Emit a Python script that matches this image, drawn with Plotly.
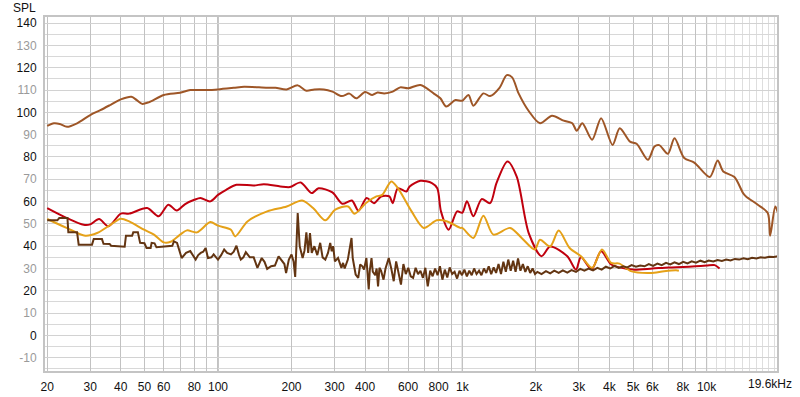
import plotly.graph_objects as go
import math

# ---------------- data ----------------
upper_freq = [20, 21.3, 22.5, 24.1, 26.5, 30, 33, 36.5, 40, 44.2, 46.5, 48.9, 52, 60, 70, 77, 90, 100,
              116, 128, 159, 172, 191, 212, 230, 248, 271, 294, 321, 345, 368, 400, 428, 450, 479, 519,
              557, 601, 674, 763, 813, 860, 937, 1000, 1060, 1110, 1220, 1300, 1420, 1520, 1600, 1700,
              1870, 2080, 2330, 2600, 2820, 2940, 3100, 3400, 3700, 4120, 4410, 4860, 5170, 5750, 6120,
              6400, 6940, 7390, 8100, 8900, 10300, 11100, 11700, 13000, 14100, 14500, 16200, 17800,
              18200, 19100, 19600]
upper_spl = [93.9, 95.1, 94.8, 93.5, 95.1, 98.8, 101, 103.5, 105.8, 107, 105.5, 103.8, 104.5, 107.8, 108.8,
             110, 110, 110.3, 111, 111.5, 111, 111, 110.3, 112.1, 109.7, 110.3, 110.3, 109.3, 107.3, 108.4,
             106.3, 109.1, 107.8, 108.9, 108.5, 109.3, 111.2, 110.8, 112.3, 108.5, 106.3, 102.6, 105.5,
             105.2, 107.8, 103, 108.5, 107.3, 111, 116.7, 115.7, 108.5, 100.6, 95.1, 98.5, 96.3, 95.1, 91.8,
             95.1, 87.7, 97.4, 85.4, 92.9, 86.9, 85.9, 78.7, 84.7, 85.3, 81.4, 88.4, 79.5, 77.5, 71, 78.4,
             73.5, 71, 63.8, 62.3, 58.6, 54.9, 44.7, 57.8, 54.9]

red_freq = [20, 24.1, 28.2, 30, 32.6, 35.6, 40, 43.3, 51.3, 57.2, 62.6, 67.8, 73.4, 80, 84.8, 93, 100, 108,
            119, 140, 154, 180, 197, 218, 242, 258, 294, 323, 353, 376, 406, 435, 465, 503, 519, 545, 590,
            609, 674, 751, 790, 818, 880, 952, 1000, 1045, 1110, 1200, 1300, 1380, 1530, 1670, 1870, 2110,
            2290, 2690, 2920, 3060, 3380, 3700, 4070, 4400, 5000, 6000, 7000, 8000, 9000, 10000, 10800, 11300]
red_spl = [57.1, 52.6, 49.6, 49.8, 52.2, 48.9, 54.6, 54.6, 57.1, 53.4, 58.6, 56, 58.9, 60.8, 61.6, 60.1, 63,
           65.3, 67.5, 67.2, 67.8, 66.8, 66.5, 68.6, 63.8, 66, 64.1, 59, 60.5, 55.9, 61.6, 59.3, 62.3, 62.3,
           59.3, 66, 64.5, 66.8, 69.3, 68.3, 66, 55.6, 47.4, 55.6, 55, 60.1, 53.4, 61.1, 59.3, 68.3, 78,
           71.2, 45.9, 35.5, 39.9, 35.5, 29.5, 35.2, 29.5, 37.7, 31.8, 30.5, 29.5, 30, 30.5, 30.7, 31, 31.3,
           31.5, 30]

orange_freq = [20, 24, 28.6, 32, 36.3, 40, 43.3, 49.8, 54.7, 60, 64, 70, 74.6, 82, 93, 100, 113, 117.6, 132,
               159, 191, 221, 245, 275, 302, 341, 362, 406, 445, 470, 512, 545, 620, 695, 786, 868, 980,
               1000, 1110, 1220, 1340, 1570, 1750, 1980, 2080, 2290, 2480, 2750, 3060, 3400, 3730, 4070,
               4400, 4900, 5900, 6700, 7500, 7700]
orange_spl = [52.2, 48.2, 44.7, 45.9, 49.6, 52.3, 51.1, 47.4, 45.2, 41.7, 42, 45.2, 47.1, 46.2, 50.8, 49.2,
              47.4, 44.4, 51.1, 55.6, 57.8, 60.5, 57.1, 51.6, 56.4, 57.8, 54.6, 59.6, 62.3, 63, 69, 66,
              55.6, 48.2, 51.6, 51.1, 48.2, 48.2, 43.7, 53.7, 45.2, 48.2, 43.7, 38.5, 42.9, 39.9, 47, 39.2,
              35.5, 30.3, 38.5, 32.5, 32.2, 28.8, 28, 28.8, 29.2, 29]

dark_freq = [20, 22, 22.4, 24.2, 24.4, 26.5, 26.9, 30.5, 31, 33.5, 34, 36, 36.5, 41.5, 42, 44.5, 45, 47, 48,
             50, 51, 53, 53.5, 55, 56, 65, 66, 68, 71, 74, 77, 79, 81, 83, 85, 87, 89, 91, 94, 96, 98, 100,
             103, 106, 109, 113, 116, 119, 122, 124, 127, 130, 135, 140, 145, 151, 155, 159, 165, 171, 177,
             183, 187, 190, 195, 200, 204, 207, 212, 216, 222, 226, 230, 234, 238, 242, 248, 255, 262, 268,
             275, 282, 288, 292, 296, 301, 310, 320, 325, 330, 340, 352, 356, 366, 375, 382, 390, 396, 405,
             414, 418, 425, 430, 440, 446, 452, 458, 465, 476, 485,
             500, 512, 524, 536, 548, 561, 574, 587, 601, 615, 629, 644, 659, 674, 690, 706, 722, 739, 756,
             774, 792, 810, 829, 848, 868, 888, 909, 930, 952, 974, 997, 1020, 1044, 1068, 1093, 1118, 1144,
             1171, 1198, 1226, 1254, 1283, 1313, 1344, 1375, 1407, 1440, 1473, 1507, 1542, 1578, 1615, 1652,
             1691, 1730, 1770, 1811, 1853, 1896, 1940, 1985,
             2030, 2110, 2200, 2290, 2380, 2480, 2580, 2690, 2800, 2920, 3040, 3160, 3290, 3430, 3570, 3720,
             3870, 4030, 4200, 4370, 4550, 4740, 4930, 5140, 5350, 5570, 5800, 6040, 6290, 6550, 6820, 7100,
             7390, 7700, 8020, 8350, 8690, 9050, 9430, 9820, 10200, 10650, 11090, 11550, 12030, 12530,
             13050, 13590, 14150, 14740, 15350, 15990, 16650, 17340, 18060, 18810, 19600]
dark_spl = [51.6, 51.6, 52.6, 52.6, 46.2, 46.2, 40.7, 40.7, 43.2, 43.2, 41.1, 41.0, 40.2, 39.8, 44.7, 44.7,
            46.2, 46.2, 41.5, 41.3, 39.2, 39.2, 41.5, 41.3, 39.5, 40.2, 42.2, 41.5, 34.7, 37, 37.8, 36, 34,
            36, 37, 37.5, 39.2, 34.7, 35, 36.3, 35, 34, 36, 38.5, 37, 36.3, 37.5, 40.2, 36, 34, 35, 37.3,
            35, 35, 30.3, 34.7, 33, 29.8, 31, 31.3, 35.4, 33, 32, 28, 34, 36.3, 33, 26.2, 54.9, 40, 34.7,
            38, 46.2, 37, 45.9, 37, 40, 36, 41.5, 35, 34, 37, 41.5, 37.7, 40, 33.2, 34.7, 30.3, 32.5, 30,
            34, 43.7, 34.7, 27.3, 25.8, 31.8, 31, 29.5, 34.7, 20.6, 29, 34.7, 28.6, 27, 30, 22, 30.3, 29,
            25, 30,
            34.7, 30, 24.3, 33.2, 28, 22.8, 32, 27.5, 30.3, 26.5, 25.8, 30.3, 27.5, 29, 25.8, 30.3, 22, 29,
            26.5, 30, 27, 31, 25, 29.5, 26, 30.5, 27.5, 28.5, 25.5, 29, 27, 29.5, 26.5, 29, 27, 30, 27.5,
            29, 27, 30, 28, 31, 27.5, 30.5, 28, 32, 27.5, 33, 28.5, 34, 29, 33.5, 28.5, 34.5, 29, 32, 28.5,
            31, 28, 30, 27.5,
            28.5, 27.5, 28.8, 27.8, 29, 28, 29.2, 28.2, 29.3, 28.5, 29.8, 29, 30, 29.2, 30.3, 29.5, 30.8,
            30, 31.2, 30.3, 31, 30.5, 31.5, 30.8, 31.3, 31, 32, 31.2, 32.2, 31.5, 32.5, 31.8, 32.8, 32, 33,
            32.3, 33.2, 32.6, 33.5, 32.8, 33.6, 33.2, 33.8, 33.4, 34, 33.6, 34.3, 34, 34.6, 34.2, 34.8,
            34.5, 35, 34.8, 35.3, 35.2, 35.5]

x_grid = [20, 30, 40, 50, 60, 70, 80, 90, 100, 200, 300, 400, 500, 600, 700, 800, 900,
          1000, 2000, 3000, 4000, 5000, 6000, 7000, 8000, 9000, 10000]
x_labels = ["20", "30", "40", "50", "60", "", "80", "", "100", "200", "300", "400", "", "600", "", "800", "",
            "1k", "2k", "3k", "4k", "5k", "6k", "", "8k", "", "10k"]
hf_grid = [11000, 12000, 13000, 14000, 15000, 16000, 17000, 18000, 19000]
decade_lines = [100, 1000, 10000]
y_ticks = [-10, 0, 10, 20, 30, 40, 50, 60, 70, 80, 90, 100, 110, 120, 130, 140]

x_min, x_max = 19.4, 19600
y_min, y_max = -16.4, 143.2

# ---------------- figure ----------------
fig = go.Figure()
series = [
    (upper_freq, upper_spl, "#9E5627", "spline"),
    (red_freq, red_spl, "#C0000E", "spline"),
    (orange_freq, orange_spl, "#E5A118", "spline"),
    (dark_freq, dark_spl, "#633512", "linear"),
]
for fx, fy, col, shape in series:
    fig.add_trace(go.Scatter(x=fx, y=fy, mode="lines",
                             line=dict(color=col, width=2, shape=shape, smoothing=0.8),
                             showlegend=False, hoverinfo="skip"))

y_text = []
for v in y_ticks:
    if (v // 10) % 2 == 0:
        y_text.append(str(v))
    else:
        y_text.append('<span style="color:#9a9a9a">%d</span>' % v)

shapes = []
for d in decade_lines:
    shapes.append(dict(type="line", xref="x", yref="paper", x0=d, x1=d, y0=0, y1=1,
                       line=dict(color="#8a8a8a", width=1), layer="below"))
shapes.append(dict(type="rect", xref="paper", yref="paper", x0=0, x1=1, y0=0, y1=1,
                   line=dict(color="#c4c4c4", width=2), layer="above"))

fig.update_layout(
    width=800, height=397,
    margin=dict(l=44, r=22, t=16, b=25, autoexpand=False),
    paper_bgcolor="white", plot_bgcolor="white",
    font=dict(family="Liberation Sans, Arial, sans-serif", size=12, color="#111"),
    shapes=shapes,
    annotations=[
        dict(text="SPL", xref="paper", yref="paper", x=0, y=1.0, xshift=-6, yshift=8, xanchor="right",
             yanchor="middle", showarrow=False, font=dict(size=12, color="#111")),
        dict(text="19.6kHz", xref="paper", yref="paper", x=1.0, y=0, xshift=16, yshift=-12,
             xanchor="right", yanchor="middle", showarrow=False, font=dict(size=12, color="#111")),
    ],
)
fig.update_xaxes(
    type="log", range=[math.log10(x_min), math.log10(x_max)], automargin=False,
    tickmode="array", tickvals=x_grid, ticktext=x_labels,
    showgrid=True, gridcolor="#c2c2c2", gridwidth=1,
    minor=dict(tickmode="array", tickvals=hf_grid, showgrid=True, gridcolor="#dedede", ticks=""),
    ticks="", showline=True, linecolor="#a9a9a9", mirror=True, zeroline=False,
    ticklabelstandoff=4,
)
fig.update_yaxes(
    range=[y_min, y_max], automargin=False,
    tickmode="array", tickvals=y_ticks, ticktext=y_text,
    showgrid=True, gridcolor="#d2d2d2", gridwidth=1,
    minor=dict(dtick=5, tick0=0, showgrid=True, gridcolor="#d8d8d8", ticks=""),
    ticks="", showline=True, linecolor="#a9a9a9", mirror=True, zeroline=False,
    ticklabelstandoff=4,
)

fig.write_html("out.html", config={"displayModeBar": False, "staticPlot": True},
               post_script="document.body.style.margin='0px';")
